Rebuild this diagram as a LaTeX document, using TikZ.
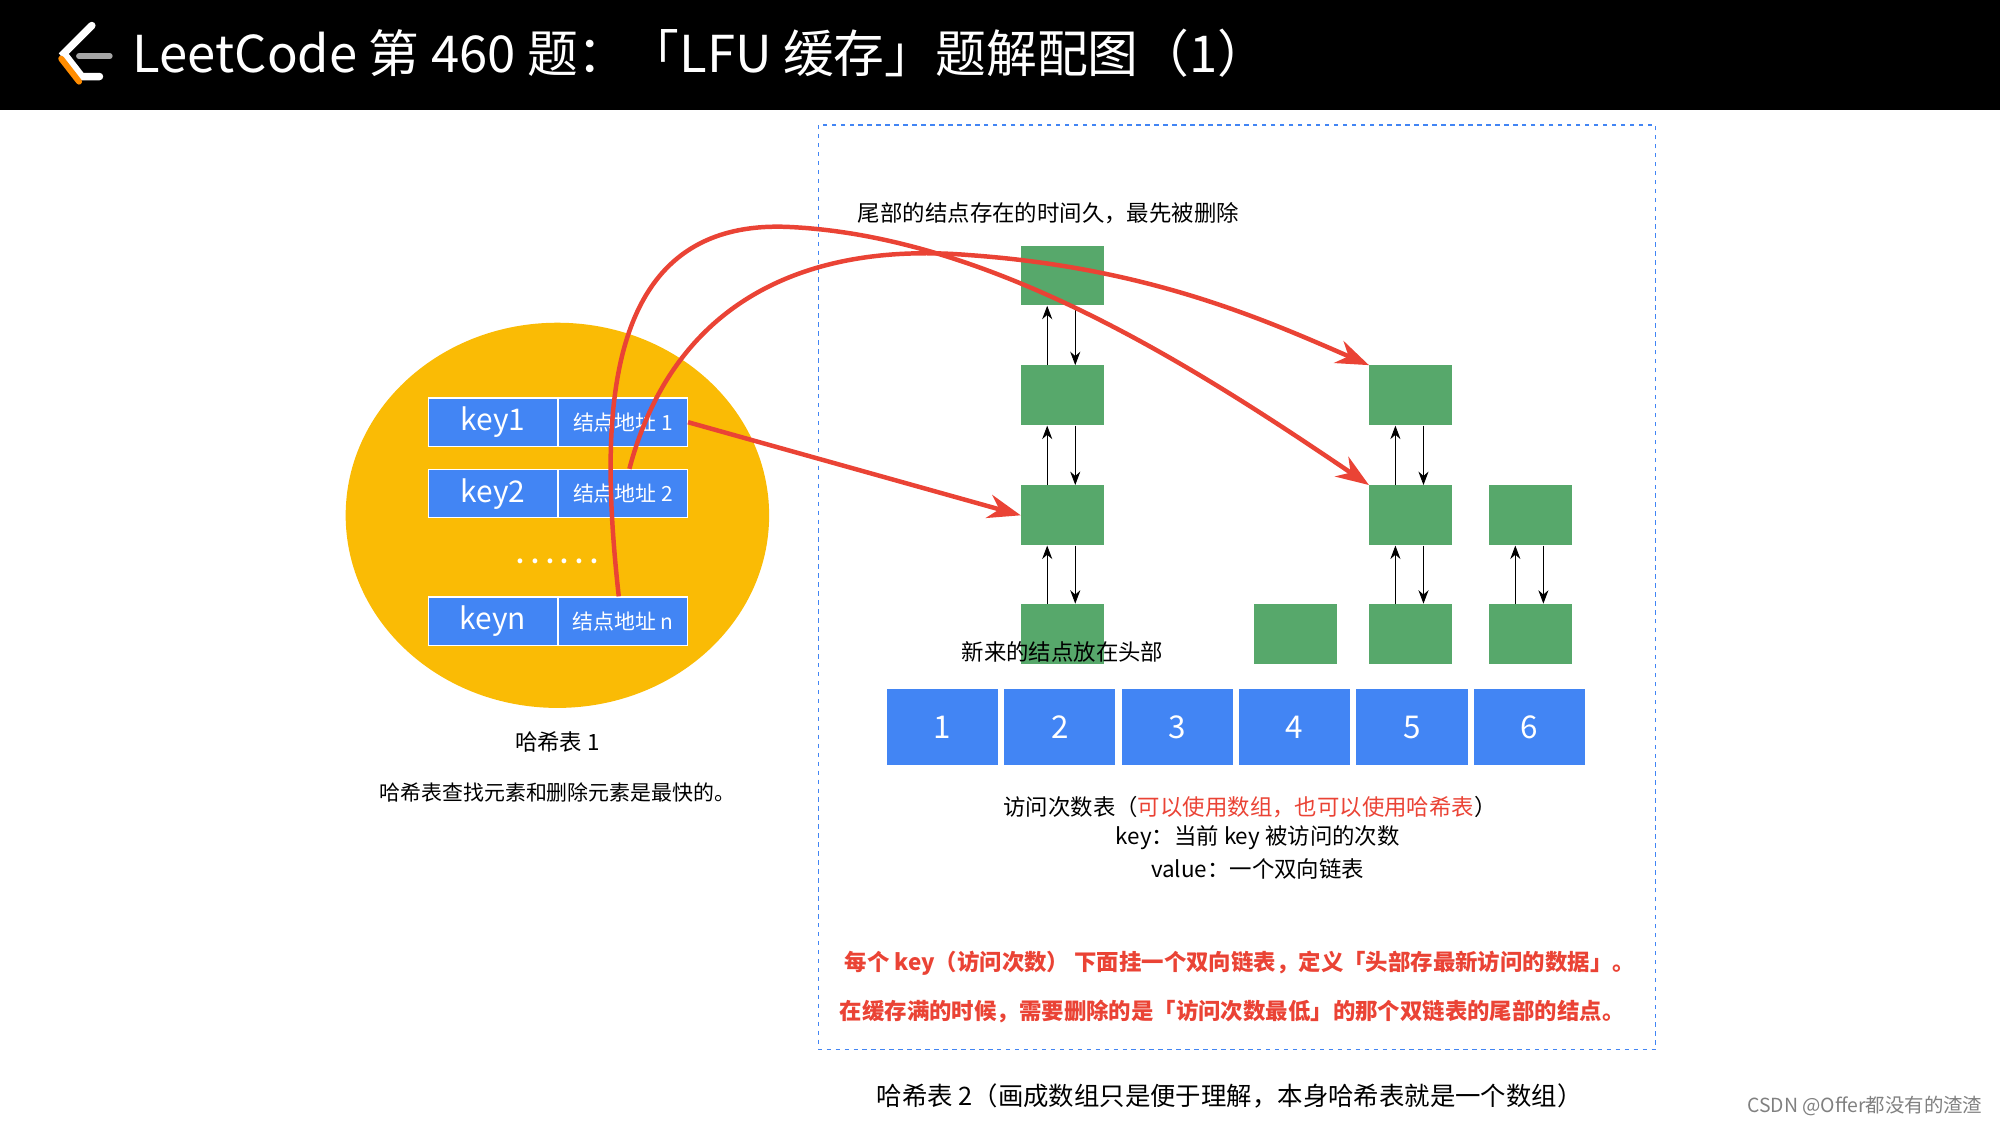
\documentclass[tikz,border=0pt]{standalone}
\usepackage{fontspec}
\setmainfont{Noto Sans CJK SC}
\usetikzlibrary{arrows.meta, positioning}
\definecolor{lcblue}{HTML}{4285F4}
\definecolor{lcgreen}{HTML}{57A86B}
\definecolor{lcyellow}{HTML}{FABB05}
\definecolor{lcred}{HTML}{EA4335}
\tikzset{
  cell/.style={draw=white, thick, fill=lcblue, text=white, minimum height=1.14cm, inner sep=0pt},
  node box/.style={fill=lcgreen, minimum width=1.95cm, minimum height=1.41cm, inner sep=0pt},
  slot/.style={draw=white, thick, fill=lcblue, text=white, minimum width=2.64cm, minimum height=1.8cm, font=\fontsize{21}{24}\selectfont},
  note/.style={font=\fontsize{14}{17}\selectfont},
  link/.style={-{Stealth[length=9pt]}, semithick},
  jump/.style={-{Stealth[length=22pt,width=16pt]}, lcred, line width=3pt}
}
\begin{document}
\begin{tikzpicture}[x=0.03cm, y=-0.03cm]
  \useasboundingbox (0,0) rectangle (1568,882);
  \fill[black] (0,0) rectangle (1568,86);
  % logo
  \draw[white, line width=5pt, line cap=round] (72,20) -- (50,42) -- (64,60) -- (78,60);
  \draw[orange!90!yellow, line width=4pt, line cap=round] (48,46) -- (62,64);
  \draw[gray!70, line width=4pt, line cap=round] (62,44) -- (86,44);
  \node[white, anchor=west, font=\fontsize{34}{38}\selectfont] (title) at (100,42) {LeetCode 第 460 题：「LFU 缓存」题解配图（1）};

  % hash table 1
  \fill[lcyellow] (437,404) ellipse [x radius=166, y radius=151];
  \foreach \k/\a/\y/\n in {key1/结点地址 1/331/r1, key2/结点地址 2/387/r2, keyn/结点地址 n/487/rn} {
    \node[cell, minimum width=3.03cm, font=\fontsize{20}{22}\selectfont] (k\n) at (386.5,\y) {\k};
    \node[cell, minimum width=3.03cm, font=\fontsize{14}{16}\selectfont, right=0pt of k\n] (a\n) {\a};
  }
  \node[white, font=\bfseries\fontsize{15}{16}\selectfont] (dots) at (437,440) {. . . . . .};
  \node[note, font=\fontsize{15}{18}\selectfont] (h1) at (437,582) {哈希表 1};
  \node[note] (h1note) at (437,621) {哈希表查找元素和删除元素是最快的。};

  % hash table 2
  \draw[lcblue, dashed, thick] (642,98) rectangle (1298,823);
  \foreach \i/\x in {1/739, 2/831, 3/923, 4/1015, 5/1107, 6/1199}
    \node[slot] (s\i) at (\x,570) {\i};

  \node[node box] (b21) at (833,216) {};
  \node[node box] (b22) at (833,310) {};
  \node[node box] (b23) at (833,404) {};
  \node[node box] (b24) at (833,497) {};
  \node[node box] (b41) at (1016,497) {};
  \node[node box] (b51) at (1106,310) {};
  \node[node box] (b52) at (1106,404) {};
  \node[node box] (b53) at (1106,497) {};
  \node[node box] (b61) at (1200,404) {};
  \node[node box] (b62) at (1200,497) {};
  \foreach \u/\d in {b21/b22, b22/b23, b23/b24, b51/b52, b52/b53, b61/b62} {
    \draw[link] ([xshift=-0.36cm]\d.north) -- ([xshift=-0.36cm]\u.south);
    \draw[link] ([xshift=0.3cm]\u.south) -- ([xshift=0.3cm]\d.north);
  }

  \node[note, font=\fontsize{15}{18}\selectfont] (tail) at (822,167) {尾部的结点存在的时间久，最先被删除};
  \node[note, font=\fontsize{15}{18}\selectfont] (head) at (833,511) {新来的结点放在头部};
  \node[note, font=\fontsize{15}{18}\selectfont] (cnt) at (980,633) {访问次数表（\textcolor{lcred}{可以使用数组，也可以使用哈希表}）};
  \node[note, font=\fontsize{15}{18}\selectfont] (keyv) at (986,657) {key：当前 key 被访问的次数};
  \node[note, font=\fontsize{15}{18}\selectfont] (valv) at (986,681) {value：一个双向链表};
  \node[note, text=lcred, font=\bfseries\fontsize{15}{18}\selectfont] (rule1) at (972,755) {每个 key（访问次数） 下面挂一个双向链表，定义「头部存最新访问的数据」。};
  \node[note, text=lcred, font=\bfseries\fontsize{15}{18}\selectfont] (rule2) at (966,793) {在缓存满的时候，需要删除的是「访问次数最低」的那个双链表的尾部的结点。};
  \node[note, font=\fontsize{17}{20}\selectfont] (h2) at (964,859) {哈希表 2（画成数组只是便于理解，本身哈希表就是一个数组）};
  \node[text=gray, font=\fontsize{13}{15}\selectfont] (csdn) at (1462,867) {CSDN @Offer都没有的渣渣};

  % pointers
  \draw[jump] (ar1.east) -- (b23.west);
  \draw[jump] ([xshift=0.15cm]ar2.north) .. controls (530,230) and (640,190) .. (760,200)
    .. controls (900,210) and (990,250) .. (b51.north west);
  \draw[jump] ([xshift=-0.1cm]arn.north) .. controls (470,330) and (470,170) .. (620,178)
    .. controls (780,186) and (940,290) .. (b52.north west);
\end{tikzpicture}
\end{document}
